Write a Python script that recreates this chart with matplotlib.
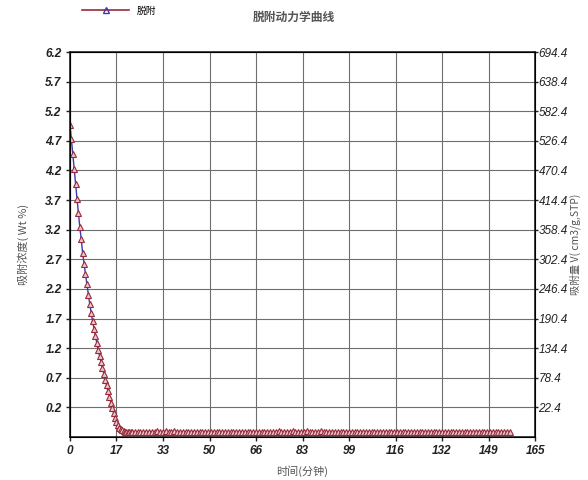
import numpy as np
import matplotlib
matplotlib.use("Agg")
import matplotlib.pyplot as plt
from matplotlib.lines import Line2D

plt.rcParams['font.family'] = ['Liberation Sans', 'Noto Sans CJK SC', 'DejaVu Sans']

# 脱附数据: 前段每0.5分钟一个点, 后段每1分钟一个点
conc_fast = [4.97, 4.73, 4.48, 4.22, 3.97, 3.72, 3.48, 3.24, 3.04, 2.80,
             2.62, 2.45, 2.28, 2.10, 1.95, 1.80, 1.66, 1.53, 1.41, 1.29,
             1.17, 1.07, 0.97, 0.87, 0.77, 0.67, 0.57, 0.47, 0.38, 0.28,
             0.19, 0.10, 0.02, -0.05, -0.10, -0.14, -0.17, -0.19, -0.20, -0.21,
             -0.21, -0.215, -0.22, -0.22, -0.22]
conc_tail = [-0.22, -0.21, -0.21, -0.22, -0.21, -0.22, -0.21, -0.21, -0.20, -0.21,
             -0.21, -0.20, -0.21, -0.21, -0.20, -0.21, -0.21, -0.21, -0.22, -0.21,
             -0.21, -0.21, -0.22, -0.21, -0.21, -0.22, -0.21, -0.22, -0.22, -0.21,
             -0.22, -0.22, -0.21, -0.22, -0.22, -0.22, -0.21, -0.22, -0.22, -0.22,
             -0.21, -0.22, -0.22, -0.21, -0.22, -0.22, -0.22, -0.21, -0.22, -0.22,
             -0.21, -0.20, -0.21, -0.22, -0.21, -0.21, -0.20, -0.21, -0.22, -0.21,
             -0.21, -0.20, -0.21, -0.21, -0.22, -0.21, -0.20, -0.21, -0.22, -0.21,
             -0.21, -0.21, -0.22, -0.21, -0.21, -0.22, -0.21, -0.21, -0.22, -0.21,
             -0.21, -0.22, -0.21, -0.21, -0.21, -0.22, -0.21, -0.21, -0.21, -0.22,
             -0.21, -0.21, -0.21, -0.22, -0.21, -0.21, -0.22, -0.21, -0.21, -0.21,
             -0.22, -0.21, -0.21, -0.21, -0.22, -0.21, -0.21, -0.21, -0.22, -0.21,
             -0.21, -0.21, -0.22, -0.21, -0.21, -0.21, -0.22, -0.21, -0.21, -0.21,
             -0.22, -0.21, -0.21, -0.21, -0.22, -0.21, -0.21, -0.21, -0.22, -0.21,
             -0.21, -0.21, -0.22, -0.21]
fast_step = 0.5
tail_start = 23

x_ticks_lbl = ['0', '17', '33', '50', '66', '83', '99', '116', '132', '149', '165']
y_left_lbl = ['0.2', '0.7', '1.2', '1.7', '2.2', '2.7', '3.2', '3.7', '4.2', '4.7',
              '5.2', '5.7', '6.2']
y_right_lbl = ['22.4', '78.4', '134.4', '190.4', '246.4', '302.4', '358.4', '414.4',
               '470.4', '526.4', '582.4', '638.4', '694.4']

t = np.concatenate([np.arange(len(conc_fast)) * fast_step,
                    tail_start + np.arange(len(conc_tail))])
c = np.array(conc_fast + conc_tail)

fig = plt.figure(figsize=(5.88, 4.8), dpi=100)
ax = fig.add_axes([0.119, 0.0896, 0.791, 0.802])

ax.plot(t, c, color='#3b3bb0', lw=1.0, marker='^', ms=5, mfc='#e8c8cc',
        mec='#9a2a3a', mew=0.8, zorder=3)

ax.set_xlim(0, 165)
ax.set_ylim(-0.3, 6.2)
ax.set_xticks(np.linspace(0, 165, len(x_ticks_lbl)))
ax.set_xticklabels(x_ticks_lbl)
ax.set_yticks([float(v) for v in y_left_lbl])
ax.set_yticklabels(y_left_lbl)
ax.grid(True, color='#6e6e6e', lw=0.8)
ax.set_axisbelow(True)

tick_font = dict(fontsize=8.5, fontweight='bold', fontstyle='italic', color='#444444')
for lbl in ax.get_xticklabels() + ax.get_yticklabels():
    lbl.set(**tick_font)
ax.tick_params(direction='out', length=3, width=1, colors='#222222', pad=3)
for sp in ax.spines.values():
    sp.set_color('#222222')
    sp.set_linewidth(1.2)

ax2 = ax.twinx()
ax2.set_ylim(-0.3 * 112, 6.2 * 112)
ax2.set_yticks([float(v) for v in y_right_lbl])
ax2.set_yticklabels(y_right_lbl)
for lbl in ax2.get_yticklabels():
    lbl.set(fontsize=8.5, fontstyle='italic', color='#444444')
ax2.tick_params(direction='out', length=2, width=1, colors='#222222', pad=0.5)

lab_font = dict(fontsize=8, fontstyle='italic', color='#555555',
                family=['Noto Sans CJK SC', 'DejaVu Sans'])
ax.set_xlabel('时间(分钟)', labelpad=6, **lab_font)
ax.set_ylabel('吸附浓度( Wt %)', labelpad=12, **lab_font)
ax2.set_ylabel('吸附量 V( cm3/g,STP)', labelpad=1, fontsize=7.5, fontstyle='italic',
               color='#555555', family=['Noto Sans CJK SC', 'DejaVu Sans'])

fig.text(0.5, 0.963, '脱附动力学曲线', ha='center', va='center', fontsize=8.5,
         fontweight='bold', fontstyle='italic', color='#555555',
         family=['Noto Sans CJK SC', 'DejaVu Sans'])

handle = Line2D([], [], color='#9a2a3a', lw=1.2, marker='^', ms=4.5,
                mfc='none', mec='#3b3bb0', mew=1.0)
fig.legend([handle], ['脱附'], loc='center left', bbox_to_anchor=(0.125, 0.978),
           frameon=False, handlelength=4.8,
           prop={'family': ['Noto Sans CJK SC', 'DejaVu Sans'], 'size': 7})

fig.savefig('out.png', dpi=100)
